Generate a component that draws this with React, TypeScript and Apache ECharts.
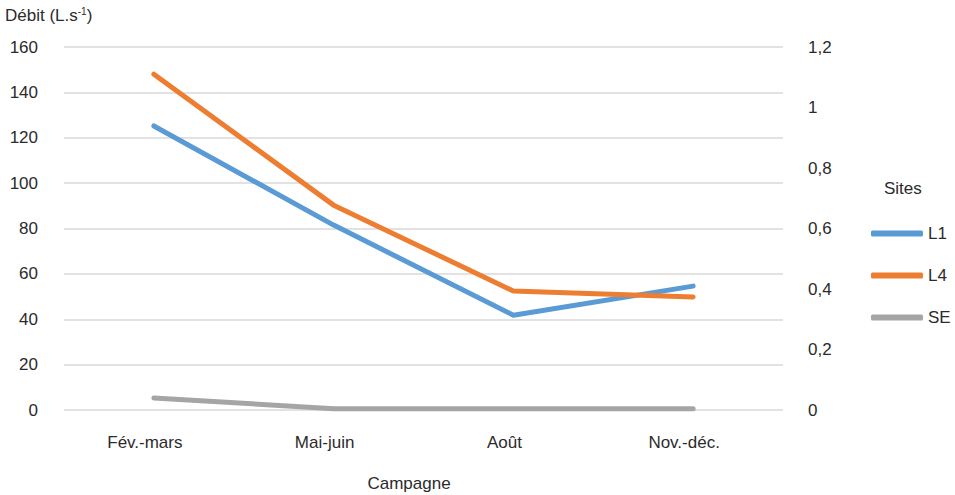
import React, { useEffect, useRef } from "react";
import * as echarts from "echarts";

const categories = ["Fév.-mars", "Mai-juin", "Août", "Nov.-déc."];
const seriesL1 = [125.2, 81.5, 41.8, 54.6];
const seriesL4 = [148, 90.3, 52.4, 49.8];
const seriesSE = [0.04, 0.004, 0.004, 0.004];
const leftTicks = { min: 0, max: 160, interval: 20 };
const rightTicks = { min: 0, max: 1.2, interval: 0.2 };

const FONT = "'Liberation Sans', Arial, sans-serif";
const TXT = "#2b2b2b";
const FS = 17;

export default function App() {
  const ref = useRef<HTMLDivElement>(null);
  useEffect(() => {
    if (!ref.current) return;
    const chart = echarts.init(ref.current, null, { renderer: "svg" });
    chart.setOption({
      animation: false,
      backgroundColor: "#ffffff",
      textStyle: { fontFamily: FONT },
      grid: { left: 64, right: 172, top: 47, bottom: 85, containLabel: false },
      legend: {
        orient: "vertical",
        left: 866,
        top: 220,
        itemWidth: 52,
        itemHeight: 6,
        itemGap: 25,
        icon: "roundRect",
        textStyle: { fontSize: FS, color: TXT, fontFamily: FONT },
        data: ["L1", "L4", "SE"],
      },
      graphic: [
        {
          type: "text",
          left: 5,
          top: 6,
          style: {
            text: "{a|Débit (L.s}{s|-1}{a|)}",
            rich: {
              a: { fontSize: FS, fontFamily: FONT, fill: TXT },
              s: { fontSize: 10, fontFamily: FONT, fill: TXT, verticalAlign: "top", padding: [0, 0, 8, 0] },
            },
          },
        },
        {
          type: "text",
          left: 884,
          top: 180,
          style: { text: "Sites", fontSize: FS, fontFamily: FONT, fill: TXT },
        },
        {
          type: "text",
          x: 409,
          y: 483,
          style: {
            text: "Campagne",
            fontSize: FS,
            fontFamily: FONT,
            fill: TXT,
            align: "center",
            verticalAlign: "middle",
          },
        },
      ],
      xAxis: {
        type: "category",
        data: categories,
        boundaryGap: true,
        axisLine: { show: false },
        axisTick: { show: false },
        axisLabel: {
          fontSize: FS,
          color: TXT,
          margin: 24,
          fontFamily: FONT,
          padding: [0, 18, 0, 0],
        },
      },
      yAxis: [
        {
          type: "value",
          ...leftTicks,
          axisLine: { show: false },
          axisTick: { show: false },
          axisLabel: { fontSize: FS, color: TXT, margin: 26, fontFamily: FONT },
          splitLine: { lineStyle: { color: "#d9d9d9", width: 1.5 } },
        },
        {
          type: "value",
          ...rightTicks,
          position: "right",
          axisLine: { show: false },
          axisTick: { show: false },
          splitLine: { show: false },
          axisLabel: {
            fontSize: FS,
            color: TXT,
            margin: 25,
            align: "left",
            fontFamily: FONT,
            formatter: (v: number) => String(Math.round(v * 10) / 10).replace(".", ","),
          },
        },
      ],
      series: [
        {
          name: "L1",
          type: "line",
          data: seriesL1,
          yAxisIndex: 0,
          showSymbol: false,
          symbol: "none",
          color: "#5b9bd5",
          lineStyle: { width: 5, cap: "round", join: "round" },
        },
        {
          name: "L4",
          type: "line",
          data: seriesL4,
          yAxisIndex: 0,
          showSymbol: false,
          symbol: "none",
          color: "#ed7d31",
          lineStyle: { width: 5, cap: "round", join: "round" },
        },
        {
          name: "SE",
          type: "line",
          data: seriesSE,
          yAxisIndex: 1,
          showSymbol: false,
          symbol: "none",
          color: "#a5a5a5",
          lineStyle: { width: 5, cap: "round", join: "round" },
        },
      ],
    });
    return () => chart.dispose();
  }, []);
  return (
    <div
      ref={ref}
      style={{ position: "fixed", left: 0, top: 0, width: 955, height: 495 }}
    />
  );
}
